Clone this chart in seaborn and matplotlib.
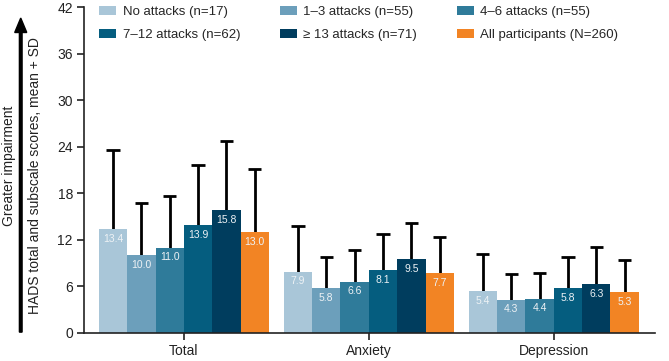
import pandas as pd
import seaborn as sns
import matplotlib.pyplot as plt
from matplotlib.patches import FancyArrow

sns.set_theme(style="white")
plt.rcParams['font.family'] = ['Liberation Sans', 'DejaVu Sans']

scales = ["Total", "Anxiety", "Depression"]
groups = ["No attacks (n=17)", "1\u20133 attacks (n=55)", "4\u20136 attacks (n=55)",
          "7\u201312 attacks (n=62)", "\u2265 13 attacks (n=71)", "All participants (N=260)"]
# means per scale, one list per group
means = {
    groups[0]: [13.4, 7.9, 5.4],
    groups[1]: [10.0, 5.8, 4.3],
    groups[2]: [11.0, 6.6, 4.4],
    groups[3]: [13.9, 8.1, 5.8],
    groups[4]: [15.8, 9.5, 6.3],
    groups[5]: [13.0, 7.7, 5.3],
}
sds = {
    groups[0]: [10.2, 5.9, 4.8],
    groups[1]: [6.7, 4.0, 3.3],
    groups[2]: [6.7, 4.1, 3.3],
    groups[3]: [7.8, 4.6, 3.95],
    groups[4]: [9.0, 4.7, 4.8],
    groups[5]: [8.1, 4.7, 4.1],
}
colors = ["#a9c6d8", "#6c9fbb", "#2f7b9a", "#055d7f", "#003d5e", "#f28424"]

rows = []
for g in groups:
    for i, s in enumerate(scales):
        rows.append({"scale": s, "group": g, "mean": means[g][i], "sd": sds[g][i]})
df = pd.DataFrame(rows)

fig = plt.figure(figsize=(6.69, 3.61), dpi=100)
ax = fig.add_axes([0.1256, 0.0776, 0.853, 0.903])

sns.barplot(data=df, x="scale", y="mean", hue="group", hue_order=groups,
            palette=colors, saturation=1, width=0.92, errorbar=None,
            edgecolor="none", ax=ax, legend=True, zorder=2)

# mean + SD whiskers (upper only), drawn behind the bars
for cont, g in zip(ax.containers, groups):
    for bar, m, sd in zip(cont, means[g], sds[g]):
        xc = bar.get_x() + bar.get_width() / 2
        ax.vlines(xc, m, m + sd, color="black", linewidth=2, zorder=1)
        ax.hlines(m + sd, xc - 0.036, xc + 0.036, color="black", linewidth=2, zorder=1)
        ax.text(xc, m - 0.6, f"{m:.1f}", ha="center", va="top",
                color="#eef2f5", fontsize=7.5, zorder=4)

ax.set_xlim(-0.54, 2.546)
ax.set_ylim(0, 42)
ax.set_yticks(range(0, 43, 6))
ax.set_xlabel("")
ax.set_ylabel("")
for s in ["top", "right"]:
    ax.spines[s].set_visible(False)
for s in ["left", "bottom"]:
    ax.spines[s].set_color("#222222")
    ax.spines[s].set_linewidth(1.2)
ax.tick_params(axis="both", which="both", length=5, width=1.2, color="#222222",
               labelsize=10, labelcolor="#222222", bottom=True, left=True, pad=3)

handles, labels = ax.get_legend_handles_labels()
order = [0, 3, 1, 4, 2, 5]  # row-major order in a 3-column legend
ax.legend([handles[i] for i in order], [labels[i] for i in order], ncol=3,
          loc="upper left", bbox_to_anchor=(0.005, 1.04),
          frameon=False, fontsize=9.5, handlelength=1.3, handleheight=0.7,
          columnspacing=3.0, labelspacing=0.8, handletextpad=0.5)

fig.text(0.052, 0.515, "HADS total and subscale scores, mean + SD", rotation=90,
         ha="center", va="center", fontsize=10, color="#222222")
fig.text(0.013, 0.54, "Greater impairment", rotation=90,
         ha="center", va="center", fontsize=10, color="#222222")
fig.patches.append(FancyArrow(0.031, 0.08, 0, 0.87, width=0.004, head_width=0.018,
                              head_length=0.04, color="black",
                              transform=fig.transFigure, length_includes_head=True))

fig.savefig("out.png", dpi=100)
